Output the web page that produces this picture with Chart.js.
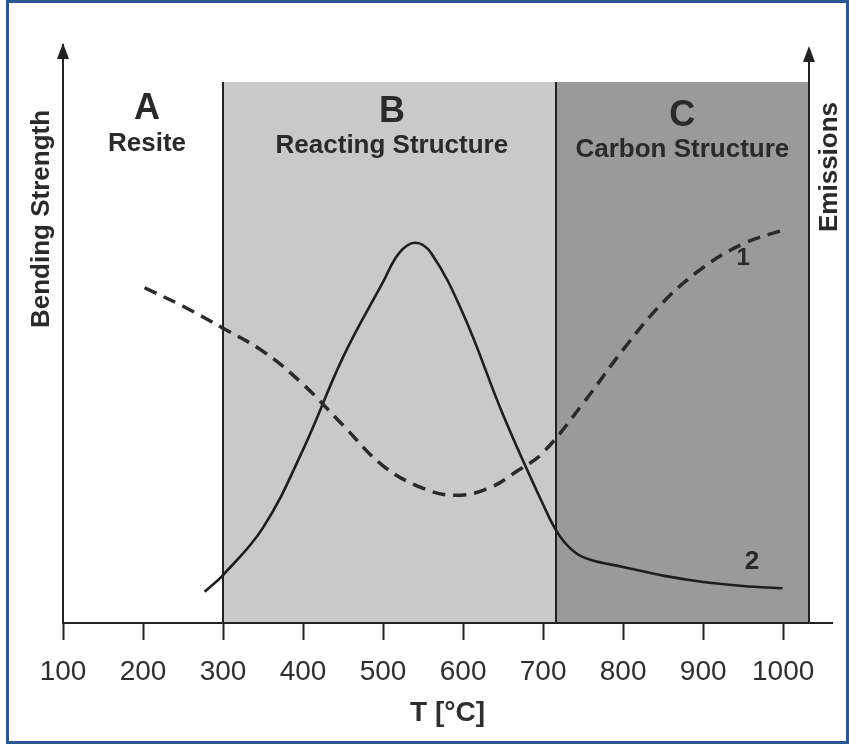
<!DOCTYPE html>
<html><head><meta charset="utf-8">
<script src="https://cdn.jsdelivr.net/npm/chart.js@4.4.1/dist/chart.umd.min.js"></script>
<style>
html,body{margin:0;padding:0;background:#fff;}
#wrap{position:relative;width:849px;height:744px;}
canvas{display:block;}
#frame{position:absolute;left:6px;top:0;width:843px;height:744px;box-sizing:border-box;border:3px solid #2b5797;pointer-events:none;}
</style></head><body>
<div id="wrap"><canvas id="c" width="849" height="744"></canvas><div id="frame"></div></div>
<script>
// ---- data ----
const tickValues = [100, 200, 300, 400, 500, 600, 700, 800, 900, 1000];
const emissionsT = [202, 250, 300, 350, 400, 450, 500, 550, 590, 630, 670, 700, 750, 800, 850, 900, 950, 1000];
const emissions  = [58.0, 54.8, 51.0, 47.0, 41.3, 34.2, 27.2, 23.3, 22.1, 23.2, 26.5, 29.5, 38.0, 47.3, 55.5, 61.5, 65.6, 68.0];
const strengthT  = [277, 300, 350, 400, 450, 500, 520, 540, 560, 600, 650, 700, 720, 740, 760, 800, 850, 900, 950, 999];
const strength   = [5.4, 8.3, 16.5, 30.0, 46.0, 59.0, 64.0, 65.8, 64.0, 53.5, 36.0, 20.5, 15.2, 12.2, 10.9, 9.7, 8.2, 7.1, 6.4, 6.0];
const regionLetters   = ['A', 'B', 'C'];
const regionNames     = ['Resite', 'Reacting Structure', 'Carbon Structure'];
const regionEdges     = [300, 716, 1032];   // start of B, start of C, end of C
const regionTopValue  = 93.6;
const curveLabels     = ['1', '2'];

const FONT = 'Liberation Sans, Arial, Helvetica, sans-serif';
const INK = '#222';

const deco = {
  id: 'deco',
  beforeDraw(chart) {
    const {ctx, scales: {x, y}} = chart;
    const top = y.getPixelForValue(regionTopValue), bot = y.getPixelForValue(0);
    const xb = x.getPixelForValue(regionEdges[0]), xc = x.getPixelForValue(regionEdges[1]), xe = x.getPixelForValue(regionEdges[2]);
    ctx.save();
    ctx.fillStyle = '#c9c9c9';
    ctx.fillRect(xb, top, xc - xb, bot - top);
    ctx.fillStyle = '#9a9a9a';
    ctx.fillRect(xc, top, xe - xc, bot - top);
    ctx.restore();
  },
  beforeDatasetsDraw(chart) {
    const {ctx, scales: {x, y}} = chart;
    const top = y.getPixelForValue(regionTopValue), bot = y.getPixelForValue(0);
    ctx.save();
    ctx.strokeStyle = INK; ctx.lineWidth = 2;
    [regionEdges[0], regionEdges[1]].forEach(v => {
      const px = Math.round(x.getPixelForValue(v));
      ctx.beginPath(); ctx.moveTo(px, top); ctx.lineTo(px, bot); ctx.stroke();
    });
    const ex = Math.round(x.getPixelForValue(regionEdges[2]));
    ctx.beginPath(); ctx.moveTo(ex, bot); ctx.lineTo(ex, y.getPixelForValue(100) + 10); ctx.stroke();
    ctx.restore();
  },
  afterDraw(chart) {
    const {ctx, scales: {x, y}, chartArea} = chart;
    ctx.save();
    ctx.fillStyle = INK;
    const arrow = (px, tip) => {
      ctx.beginPath(); ctx.moveTo(px, tip); ctx.lineTo(px - 6, tip + 16); ctx.lineTo(px + 6, tip + 16); ctx.closePath(); ctx.fill();
    };
    arrow(chartArea.left, y.getPixelForValue(100) - 2);
    arrow(Math.round(x.getPixelForValue(regionEdges[2])), y.getPixelForValue(100) + 1);

    ctx.fillStyle = '#2a2a2a';
    ctx.textAlign = 'center'; ctx.textBaseline = 'middle';
    const letterX = [205, 511, 874];
    const letterY = [89.0, 88.4, 87.7];
    const nameY = [82.9, 82.5, 81.8];
    regionLetters.forEach((t, i) => {
      ctx.font = 'bold 36px ' + FONT;
      ctx.fillText(t, x.getPixelForValue(letterX[i]), y.getPixelForValue(letterY[i]));
      ctx.font = 'bold 26px ' + FONT;
      ctx.fillText(regionNames[i], x.getPixelForValue(letterX[i]), y.getPixelForValue(nameY[i]));
    });
    ctx.font = 'bold 24px ' + FONT;
    ctx.fillText(curveLabels[0], x.getPixelForValue(950), y.getPixelForValue(63.1));
    ctx.font = 'bold 26px ' + FONT;
    ctx.fillText(curveLabels[1], x.getPixelForValue(961), y.getPixelForValue(10.6));

    ctx.font = 'bold 26px ' + FONT;
    ctx.save();
    ctx.translate(chartArea.left - 21, y.getPixelForValue(69.9));
    ctx.rotate(-Math.PI / 2);
    ctx.fillText('Bending Strength', 0, 0);
    ctx.restore();
    ctx.save();
    ctx.translate(x.getPixelForValue(regionEdges[2]) + 21, y.getPixelForValue(78.9));
    ctx.rotate(-Math.PI / 2);
    ctx.fillText('Emissions', 0, 0);
    ctx.restore();
    ctx.restore();
  }
};

new Chart(document.getElementById('c'), {
  type: 'line',
  data: {
    datasets: [
      {
        label: curveLabels[0],
        data: emissionsT.map((t, i) => ({x: t, y: emissions[i]})),
        borderColor: '#2a2a2a', borderWidth: 3.5, borderDash: [13, 8],
        pointRadius: 0, tension: 0.4, fill: false
      },
      {
        label: curveLabels[1],
        data: strengthT.map((t, i) => ({x: t, y: strength[i]})),
        borderColor: '#1e1e1e', borderWidth: 2.6,
        pointRadius: 0, tension: 0.4, fill: false
      }
    ]
  },
  options: {
    responsive: false, animation: false, devicePixelRatio: 1,
    layout: {padding: {top: 45, right: 17, left: 0, bottom: 0}},
    plugins: {legend: {display: false}, tooltip: {enabled: false}},
    scales: {
      x: {
        type: 'linear', min: 100, max: 1061,
        afterBuildTicks(s) { s.ticks = tickValues.map(v => ({value: v})); },
        afterFit(s) { s.height = 121; },
        grid: {drawOnChartArea: false, drawTicks: true, tickLength: 17, tickWidth: 2, tickColor: INK},
        border: {display: true, color: INK, width: 2},
        ticks: {color: '#2e2e2e', font: {family: FONT, size: 28}, padding: 15, maxRotation: 0, autoSkip: false,
                callback: v => String(v)},
        title: {display: true, text: 'T [°C]', color: '#2e2e2e', font: {family: FONT, size: 28, weight: 'bold'}, padding: {top: 0, bottom: 14}}
      },
      y: {
        min: 0, max: 100, position: 'left',
        afterFit(s) { s.width = 63; },
        ticks: {display: false},
        grid: {display: false},
        border: {display: true, color: INK, width: 2}
      }
    }
  },
  plugins: [deco]
});
</script>
</body></html>
